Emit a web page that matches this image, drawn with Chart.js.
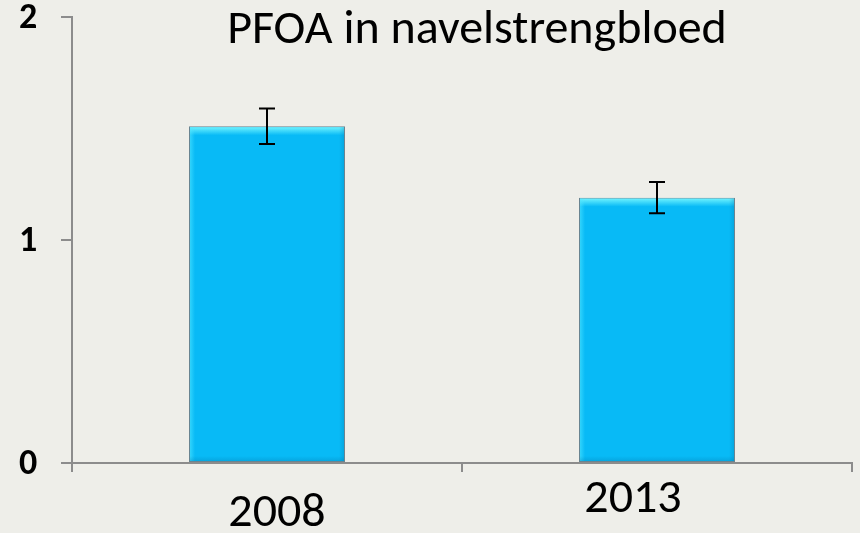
<!DOCTYPE html>
<html>
<head>
<meta charset="utf-8">
<script src="https://cdn.jsdelivr.net/npm/chart.js@4.4.1/dist/chart.umd.min.js"></script>
<style>
  html, body { margin: 0; padding: 0; background: #eeeee9; }
  #wrap { width: 860px; height: 533px; }
</style>
</head>
<body>
<div id="wrap"><canvas id="myBarChart"></canvas></div>
<script>
// chart data
const years = ['2008', '2013'];
const pfoaValues = [1.51, 1.19];
const pfoaErrors = [0.08, 0.07];
const yTicks = [0, 1, 2];
const chartTitle = 'PFOA in navelstrengbloed';

const narrowFont = "Carlito, Calibri, 'Liberation Sans Narrow', 'Open Sans', sans-serif";

// fit a text into a given width by scaling font size
function fitFont(ctx, text, weight, width) {
  ctx.font = weight + ' 40px ' + narrowFont;
  const w = ctx.measureText(text).width;
  return Math.round(40 * width / w);
}

// error bars + bevel + title + axis labels
const extrasPlugin = {
  id: 'extras',
  afterDatasetsDraw(chart) {
    const ctx = chart.ctx;
    const meta = chart.getDatasetMeta(0);
    const yScale = chart.scales.y;
    const xScale = chart.scales.x;
    ctx.save();

    // bevel look on each bar
    meta.data.forEach(function (bar) {
      const left = bar.x - bar.width / 2;
      const top = bar.y;
      const bottom = bar.base;
      const g = ctx.createLinearGradient(0, top, 0, top + 9);
      g.addColorStop(0, 'rgba(120, 248, 255, 1)');
      g.addColorStop(1, 'rgba(120, 248, 255, 0)');
      ctx.fillStyle = g;
      ctx.fillRect(left + 1, top + 1, bar.width - 2, 9);
      const gl = ctx.createLinearGradient(left, 0, left + 6, 0);
      gl.addColorStop(0, 'rgba(80, 230, 255, 0.7)');
      gl.addColorStop(1, 'rgba(80, 230, 255, 0)');
      ctx.fillStyle = gl;
      ctx.fillRect(left + 1, top + 1, 6, bottom - top - 2);
      const gr = ctx.createLinearGradient(left + bar.width - 6, 0, left + bar.width, 0);
      gr.addColorStop(0, 'rgba(0, 110, 160, 0)');
      gr.addColorStop(1, 'rgba(0, 110, 160, 0.3)');
      ctx.fillStyle = gr;
      ctx.fillRect(left + bar.width - 7, top + 1, 6, bottom - top - 2);
      const gb = ctx.createLinearGradient(0, bottom - 6, 0, bottom);
      gb.addColorStop(0, 'rgba(0, 110, 160, 0)');
      gb.addColorStop(1, 'rgba(0, 110, 160, 0.3)');
      ctx.fillStyle = gb;
      ctx.fillRect(left + 1, bottom - 7, bar.width - 2, 6);
    });

    // error bars
    ctx.strokeStyle = '#000';
    ctx.lineWidth = 2;
    pfoaValues.forEach(function (v, i) {
      const x = meta.data[i].x;
      const yHi = yScale.getPixelForValue(v + pfoaErrors[i]);
      const yLo = yScale.getPixelForValue(v - pfoaErrors[i]);
      ctx.beginPath();
      ctx.moveTo(x, yHi); ctx.lineTo(x, yLo);
      ctx.moveTo(x - 8, yHi); ctx.lineTo(x + 8, yHi);
      ctx.moveTo(x - 8, yLo); ctx.lineTo(x + 8, yLo);
      ctx.stroke();
    });

    ctx.fillStyle = '#000';
    ctx.textAlign = 'center';

    // y tick labels, bold
    ctx.textBaseline = 'middle';
    const ySize = fitFont(ctx, '2', 'bold', 18);
    ctx.font = 'bold ' + ySize + 'px ' + narrowFont;
    yTicks.forEach(function (v) {
      ctx.fillText(String(v), 28, yScale.getPixelForValue(v) + 2);
    });

    // title
    ctx.textBaseline = 'alphabetic';
    const tSize = fitFont(ctx, chartTitle, 'normal', 495);
    ctx.font = 'normal ' + tSize + 'px ' + narrowFont;
    ctx.fillText(chartTitle, 477, 43);

    // year labels (placed a bit unevenly like the original slide)
    const xShift = [10, -24];
    const yBase = [526, 512];
    years.forEach(function (label, i) {
      const size = fitFont(ctx, label, 'normal', 97);
      ctx.font = 'normal ' + size + 'px ' + narrowFont;
      ctx.fillText(label, xScale.getPixelForValue(i) + xShift[i], yBase[i]);
    });
    ctx.restore();
  }
};

document.addEventListener('DOMContentLoaded', function () {
  const ctx = document.getElementById('myBarChart').getContext('2d');
  const myChart = new Chart(ctx, {
    type: 'bar',
    data: {
      labels: years,
      datasets: [{
        label: 'PFOA',
        data: pfoaValues,
        backgroundColor: '#08baf6',
        borderColor: 'rgba(90, 120, 135, 0.9)',
        borderWidth: 1,
        borderSkipped: false,
        categoryPercentage: 1.0,
        barPercentage: 0.40
      }]
    },
    options: {
      responsive: true,
      maintainAspectRatio: false,
      animation: false,
      layout: { padding: { top: 17, right: 8, left: 0, bottom: 0 } },
      plugins: {
        legend: { display: false },
        title: { display: false },
        tooltip: { enabled: false }
      },
      scales: {
        x: {
          offset: true,
          grid: {
            display: true,
            offset: true,
            drawOnChartArea: false,
            drawTicks: true,
            tickLength: 9,
            color: '#8c8c8c',
            lineWidth: 2
          },
          border: { display: true, color: '#8c8c8c', width: 2 },
          ticks: { display: false },
          afterFit: function (scale) {
            scale.height = 70;
            scale.paddingLeft = 0;
            scale.paddingRight = 0;
          }
        },
        y: {
          min: 0,
          max: 2,
          afterBuildTicks: function (scale) {
            scale.ticks = yTicks.map(function (v) { return { value: v }; });
          },
          grid: {
            display: true,
            drawOnChartArea: false,
            drawTicks: true,
            tickLength: 11,
            color: '#8c8c8c',
            lineWidth: 2
          },
          border: { display: true, color: '#8c8c8c', width: 2 },
          ticks: { display: false },
          afterFit: function (scale) {
            scale.width = 72;
            scale.paddingTop = 0;
            scale.paddingBottom = 0;
          }
        }
      }
    },
    plugins: [extrasPlugin]
  });
});
</script>
</body>
</html>
